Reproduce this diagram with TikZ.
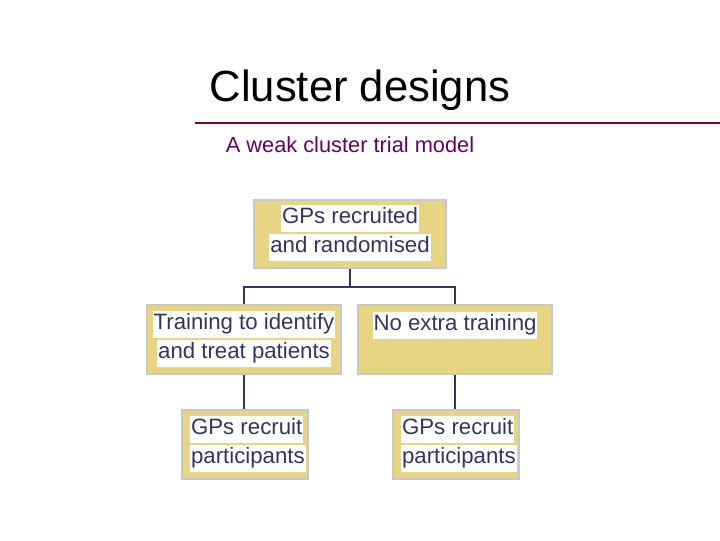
\documentclass[tikz,border=0pt]{standalone}
\usepackage{fontspec}
\setmainfont{Liberation Sans}
\usepackage{tikz}
\definecolor{boxfill}{HTML}{E8D583}
\definecolor{boxline}{HTML}{C8C8C8}
\definecolor{navy}{HTML}{333366}
\definecolor{maroon}{HTML}{800040}
\definecolor{plum}{HTML}{660066}
\setlength{\fboxsep}{0.6pt}
\newcommand{\hl}[1]{\colorbox{white}{\strut #1}}

\begin{document}
\begin{tikzpicture}[x=0.025cm,y=-0.025cm,
  box/.style={draw=boxline,line width=1.2pt,fill=boxfill,inner sep=0pt},
  label/.style={text=navy,font=\fontsize{15.8}{18}\selectfont,inner sep=0pt},
  link/.style={draw=navy,line width=1pt}]
\useasboundingbox (0,0) rectangle (720,540);
\node (title) at (360,90) {\fontsize{31}{36}\selectfont Cluster designs};
\draw[maroon,line width=1.5pt] (195,123) -- (720,123);
\node[text=plum] (sub) at (350,145) {\fontsize{15.5}{18}\selectfont A weak cluster trial model};

\node[box,minimum width=4.8cm,minimum height=1.7cm] (top) at (350,234) {};
\node[box,minimum width=4.85cm,minimum height=1.725cm] (train) at (244,339.5) {};
\node[box,minimum width=4.85cm,minimum height=1.725cm] (none) at (455,339.5) {};
\node[box,minimum width=3.15cm,minimum height=1.725cm] (recl) at (245,444.5) {};
\node[box,minimum width=3.15cm,minimum height=1.725cm] (recr) at (456,444.5) {};

\node[label,align=center] at (350,233) {\hl{GPs recruited}\\\hl{and randomised}};
\node[label,align=center] at (244,339) {\hl{Training to identify}\\\hl{and treat patients}};
\node[label] at (455,325) {\hl{No extra training}};
\node[label,align=left,anchor=west] at (190,444) {\hl{GPs recruit}\\\hl{participants}};
\node[label,align=left,anchor=west] at (401,444) {\hl{GPs recruit}\\\hl{participants}};

% connectors
\coordinate (fork) at (350,287);
\draw[link] (top.south) -- (fork) -| (train.north);
\draw[link] (fork) -| (none.north);
\draw[link] (train.south) -- (train.south |- recl.north);
\draw[link] (none.south) -- (none.south |- recr.north);
\end{tikzpicture}
\end{document}
